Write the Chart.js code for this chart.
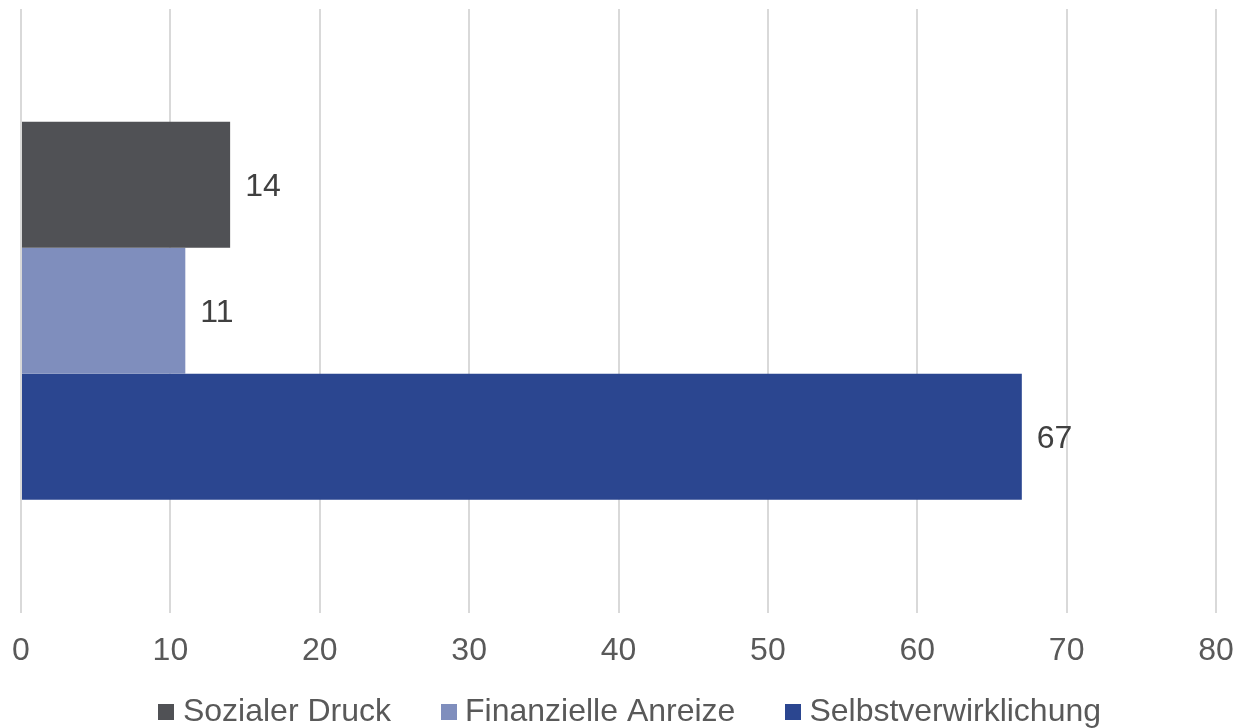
<!DOCTYPE html>
<html>
<head>
<meta charset="utf-8">
<script src="https://cdn.jsdelivr.net/npm/chart.js@4/dist/chart.umd.min.js"></script>
<style>
  html, body { margin: 0; padding: 0; background: #fff; }
  #wrap { width: 1238px; height: 728px; }
</style>
</head>
<body>
<div id="wrap"><canvas id="grafico"></canvas></div>
<script>
const kategorien = [""];
const reihen = ["Sozialer Druck", "Finanzielle Anreize", "Selbstverwirklichung"];
const sozialerDruck = [14];
const finanzielleAnreize = [11];
const selbstverwirklichung = [67];
const farben = ["#505155", "#7f8ebd", "#2b4690"];
const xTicks = [0, 10, 20, 30, 40, 50, 60, 70, 80];

const schrift = "'Liberation Sans', Arial, sans-serif";

// kleines Quadrat als Legendensymbol
function quadrat(farbe) {
    const c = document.createElement("canvas");
    c.width = 16;
    c.height = 16;
    const g = c.getContext("2d");
    g.fillStyle = farbe;
    g.fillRect(0, 0, 16, 16);
    return c;
}
const symbole = farben.map(quadrat);

// Werte rechts neben den Balken
const wertLabels = {
    id: "wertLabels",
    afterDatasetsDraw(chart) {
        const ctx = chart.ctx;
        ctx.save();
        ctx.font = "32px " + schrift;
        ctx.fillStyle = "#404040";
        ctx.textAlign = "left";
        ctx.textBaseline = "middle";
        chart.data.datasets.forEach((ds, i) => {
            chart.getDatasetMeta(i).data.forEach((bar, j) => {
                ctx.fillText(String(ds.data[j]), bar.x + 15, bar.y + 2);
            });
        });
        ctx.restore();
    }
};

// Legende: weiter Abstand zwischen den Einträgen, aber wenig Höhe
const legendeKompakt = {
    id: "legendeKompakt",
    afterInit(chart) {
        const lg = chart.legend;
        const d = 50, dx = 15;
        const fit = lg.fit;
        lg.fit = function () { fit.call(this); this.height -= d; };
        const draw = lg.draw;
        lg.draw = function () {
            this.top -= d; this.left += dx; this.right += dx;
            draw.call(this);
            this.top += d; this.left -= dx; this.right -= dx;
        };
    }
};

new Chart(document.getElementById("grafico"), {
    type: "bar",
    data: {
        labels: kategorien,
        datasets: [
            { label: reihen[0], data: sozialerDruck, backgroundColor: farben[0] },
            { label: reihen[1], data: finanzielleAnreize, backgroundColor: farben[1] },
            { label: reihen[2], data: selbstverwirklichung, backgroundColor: farben[2] }
        ]
    },
    options: {
        indexAxis: "y",
        responsive: true,
        maintainAspectRatio: false,
        animation: false,
        layout: { padding: { top: 9, left: 21, right: 22, bottom: -10 } },
        datasets: { bar: { categoryPercentage: 0.626, barPercentage: 1 } },
        scales: {
            x: {
                min: 0,
                max: 80,
                afterBuildTicks: axis => { axis.ticks = xTicks.map(v => ({ value: v })); },
                afterFit: axis => { axis.paddingLeft = 0; axis.paddingRight = 0; },
                grid: { color: "#d9d9d9", lineWidth: 2, drawTicks: false },
                border: { display: false },
                ticks: {
                    color: "#595959",
                    padding: 19,
                    maxRotation: 0,
                    font: { family: schrift, size: 32 }
                }
            },
            y: { display: false }
        },
        plugins: {
            legend: {
                position: "bottom",
                labels: {
                    color: "#595959",
                    usePointStyle: true,
                    pointStyleWidth: 1,
                    padding: 57,
                    font: { family: schrift, size: 32 },
                    generateLabels: chart =>
                        Chart.defaults.plugins.legend.labels.generateLabels(chart)
                            .map((item, i) => ({ ...item, pointStyle: symbole[i] }))
                }
            },
            tooltip: { enabled: false }
        }
    },
    plugins: [wertLabels, legendeKompakt]
});
</script>
</body>
</html>
